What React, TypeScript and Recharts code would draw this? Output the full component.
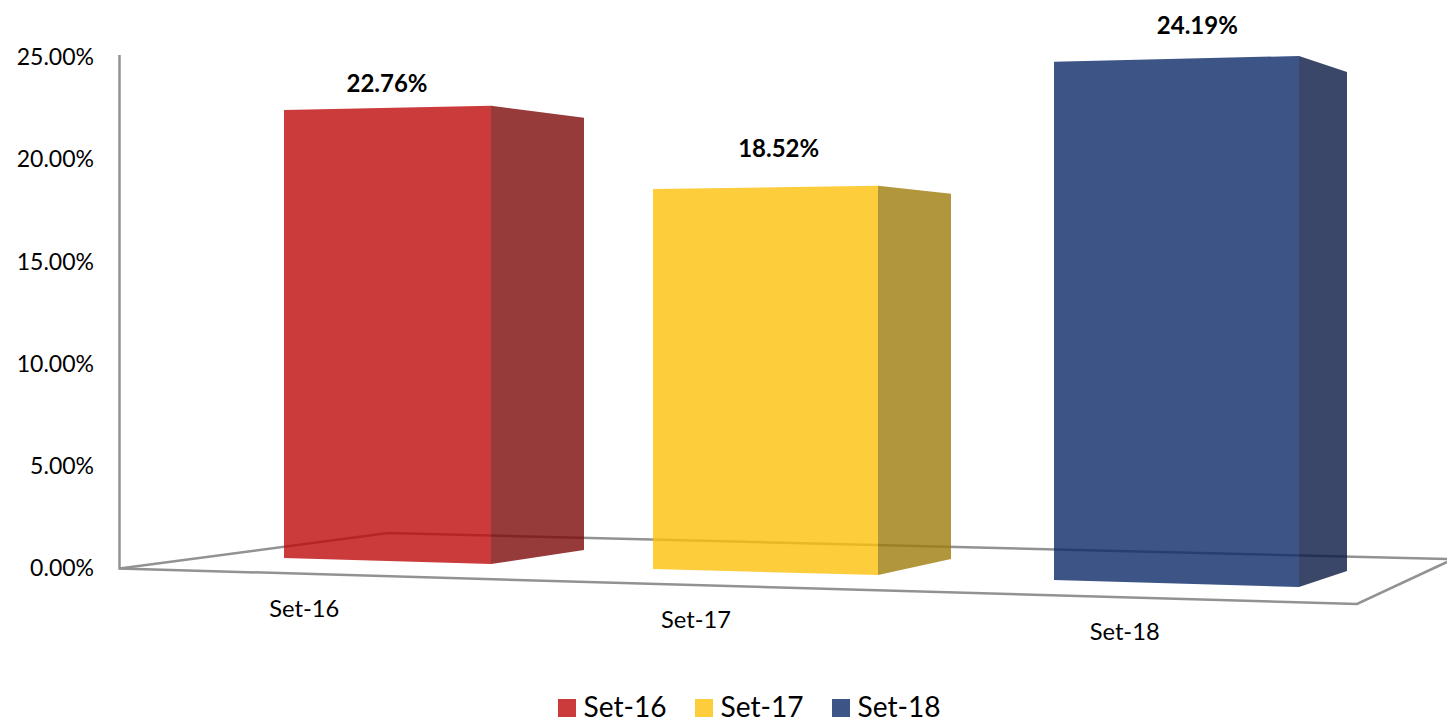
import React from 'react';
import { BarChart, Bar, XAxis, YAxis, LabelList, Legend, Customized } from 'recharts';

const categories = ['Set-16', 'Set-17', 'Set-18'];
const values = [22.76, 18.52, 24.19];
const yTicks = [0, 5, 10, 15, 20, 25];

// drawn at 80% so the floor line shows through the boxes
const frontColors = ['#BE0A0A', '#FCC00A', '#0B2968'];
const sideColors = ['#7C0909', '#9F7C0B', '#0A1942'];
const legendColors = ['#CB3B3B', '#FDCD3B', '#3C5486'];

// perspective of each box: x offsets from the band centre, and how the flat
// bar height is stretched / moved at the three vertical edges
const boxes = [
  { left: -56, right: 151, side: 244, scale: [0.963, 0.985, 0.929], drop: [-10, -4, -18], label: [47, -20], tick: [-36, 32] },
  { left: -130, right: 95, side: 168, scale: [1.004, 1.028, 0.965], drop: [1, 7, -9], label: [-4, -42], tick: [-87, 43] },
  { left: -171, right: 74, side: 122, scale: [1.048, 1.074, 1.009], drop: [12, 19, 3], label: [-28, -49], tick: [-101, 55] },
];

const data = categories.map((name, i) => ({ name, value: values[i] }));

const FONT = 'Lato, sans-serif';
const BAR_WIDTH = 200;

const Box = (props: any) => {
  const { x, y, width, height, index } = props;
  const b = boxes[index];
  const cx = x + width / 2;
  const base = y + height;
  const xL = Math.round(cx + b.left);
  const xR = Math.round(cx + b.right);
  const xS = Math.round(cx + b.side);
  const bottom = b.drop.map((d: number) => base + d);
  const top = b.scale.map((s: number, i: number) => bottom[i] - height * s);
  return (
    <g fillOpacity={0.8}>
      <polygon
        points={`${xL},${top[0]} ${xR},${top[1]} ${xR},${bottom[1]} ${xL},${bottom[0]}`}
        fill={frontColors[index]}
      />
      <polygon
        points={`${xR},${top[1]} ${xS},${top[2]} ${xS},${bottom[2]} ${xR},${bottom[1]}`}
        fill={sideColors[index]}
      />
    </g>
  );
};

const BoxLabel = (props: any) => {
  const { x, y, width, value, index } = props;
  const b = boxes[index];
  return (
    <text
      x={x + width / 2 + b.label[0]}
      y={y + b.label[1]}
      textAnchor="middle"
      dominantBaseline="central"
      fontFamily={FONT}
      fontWeight={700}
      fontSize={24}
      fill="#000"
    >
      {value.toFixed(2)}%
    </text>
  );
};

const SlantedTick = (props: any) => {
  const { x, y, payload, index } = props;
  const b = boxes[index];
  return (
    <text
      x={x + b.tick[0]}
      y={y + b.tick[1]}
      textAnchor="middle"
      dominantBaseline="central"
      fontFamily={FONT}
      fontSize={23.7}
      fill="#000"
    >
      {payload.value}
    </text>
  );
};

// floor and wall of the 3D frame
const BackFrame = () => (
  <g fill="none" stroke="#929292" strokeWidth={2.5}>
    <polyline points="119.5,55 119.5,568.5 1357,604 1447,562" />
    <polyline points="119.5,568.5 388,533 1447,559" />
  </g>
);

const LegendRow = () => (
  <div style={{ display: 'flex', justifyContent: 'center', alignItems: 'center', boxSizing: 'border-box', height: 30, paddingTop: 2, paddingLeft: 51, fontFamily: FONT, fontSize: 28.1, lineHeight: '28px', color: '#000' }}>
    {categories.map((c, i) => (
      <div key={c} style={{ display: 'flex', alignItems: 'center', marginLeft: i ? 28 : 0 }}>
        <span style={{ width: 18, height: 18, background: legendColors[i], marginRight: 8, position: 'relative', top: 2 }} />
        <span>{c}</span>
      </div>
    ))}
  </div>
);

export default function App() {
  return (
    <div style={{ position: 'absolute', left: 0, top: 0, width: 1447, height: 720, background: '#fff', overflow: 'hidden' }}>
      <BarChart
        width={1447}
        height={720}
        data={data}
        barSize={BAR_WIDTH}
        margin={{ top: 57, right: 0, bottom: 62, left: 0 }}
      >
        <Customized component={BackFrame} />
        <XAxis dataKey="name" height={60} axisLine={false} tickLine={false} tick={<SlantedTick />} interval={0} />
        <YAxis
          width={119}
          domain={[0, 25]}
          ticks={yTicks}
          axisLine={false}
          tickLine={false}
          tickFormatter={(v: number) => `${v.toFixed(2)}%`}
          tick={{ fontFamily: FONT, fontSize: 23, fill: '#000' }}
          tickMargin={19}
        />
        <Bar dataKey="value" shape={<Box />} isAnimationActive={false}>
          <LabelList dataKey="value" content={<BoxLabel />} />
        </Bar>
        <Legend
          content={<LegendRow />}
          wrapperStyle={{ left: 0, bottom: 0, width: 1447, height: 30 }}
        />
      </BarChart>
    </div>
  );
}
